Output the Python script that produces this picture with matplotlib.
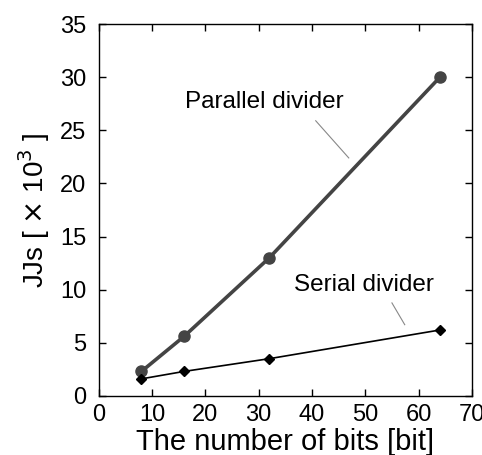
import matplotlib.pyplot as plt

plt.rcParams["font.family"] = ["Liberation Sans", "DejaVu Sans"]

bits = [8, 16, 32, 64]
parallel_jjs = [2.3, 5.6, 13.0, 30.0]
serial_jjs = [1.6, 2.3, 3.5, 6.2]

fig = plt.figure(figsize=(4.82, 4.55), dpi=100)
ax = fig.add_axes([0.205, 0.13, 0.774, 0.817])

ax.plot(bits, parallel_jjs, "-o", color="#444444", lw=2.6, ms=8, mfc="#444444", mec="#444444")
ax.plot(bits, serial_jjs, "-D", color="black", lw=1.2, ms=5.5)

ax.set_xlim(0, 70)
ax.set_ylim(0, 35)
ax.set_xticks(range(0, 71, 10))
ax.set_yticks(range(0, 36, 5))
ax.tick_params(direction="in", top=True, right=True, length=5, width=1, labelsize=17, pad=6)
ax.tick_params(axis="y", pad=9)
for s in ax.spines.values():
    s.set_linewidth(1.0)

ax.set_xlabel("The number of bits [bit]", fontsize=21, labelpad=1)
ax.set_ylabel(r"JJs [ $\times$ 10$^{3}$ ]", fontsize=20, labelpad=6)

# leader lines and series names
ax.text(31.1, 27.7, "Parallel divider", fontsize=17.5, ha="center", va="center")
ax.plot([40.7, 46.9], [25.9, 22.4], color="#888888", lw=0.8)
ax.text(49.7, 10.4, "Serial divider", fontsize=17.5, ha="center", va="center")
ax.plot([55.0, 57.4], [8.75, 6.7], color="#888888", lw=0.8)

fig.savefig("out.png", dpi=100)
